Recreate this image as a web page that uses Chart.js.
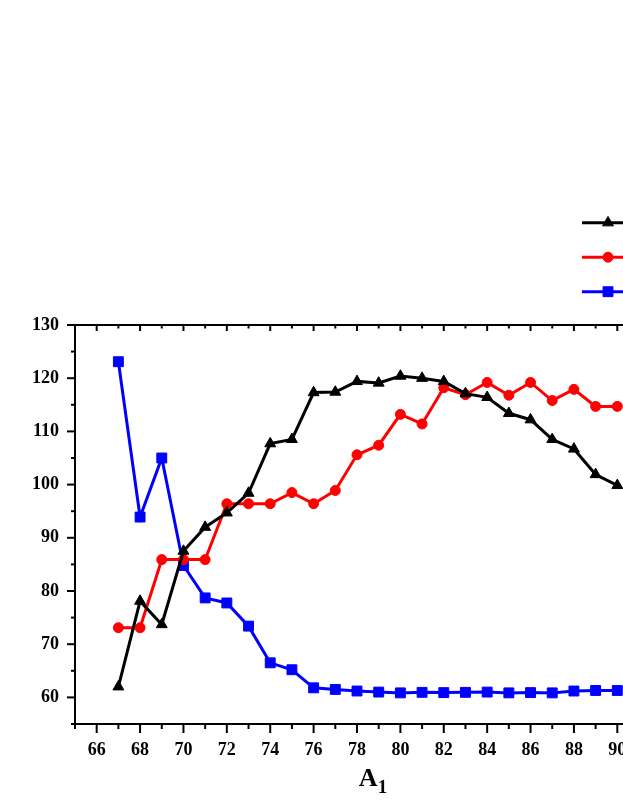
<!DOCTYPE html>
<html><head><meta charset="utf-8">
<script src="https://cdn.jsdelivr.net/npm/chart.js@4.4.1/dist/chart.umd.min.js"></script>
<style>html,body{margin:0;padding:0;background:#fff;overflow:hidden;width:623px;height:806px}canvas{display:block}</style>
</head><body>
<canvas id="c" width="700" height="806"></canvas>
<script>
const xValues = [67,68,69,70,71,72,73,74,75,76,77,78,79,80,81,82,83,84,85,86,87,88,89,90];
const seriesBlack = [62.0,78.1,73.7,87.5,92.0,94.7,98.4,107.7,108.5,117.3,117.4,119.4,119.1,120.4,120.0,119.4,117.1,116.4,113.4,112.2,108.5,106.7,101.9,99.85];
const seriesRed = [73.1,73.1,85.9,85.9,85.9,96.4,96.4,96.4,98.5,96.4,98.9,105.6,107.4,113.2,111.4,118.2,116.9,119.2,116.8,119.2,115.8,117.9,114.7,114.7];
const seriesBlue = [123.1,93.9,105.0,84.8,78.7,77.75,73.4,66.5,65.2,61.8,61.5,61.2,61.0,60.85,60.95,60.9,60.95,61.0,60.85,60.9,60.85,61.2,61.3,61.3];
const seriesNames = ['Series 1','Series 2','Series 3'];
const xTickLabels = [66,68,70,72,74,76,78,80,82,84,86,88,90];
const yTickLabels = [60,70,80,90,100,110,120,130];
const axisTitleMain = 'A';
const axisTitleSub = '1';

const FONT = '"Liberation Serif", "Times New Roman", serif';
const pts = arr => xValues.map((x, i) => ({x: x, y: arr[i]}));

const decor = {
  id: 'decor',
  afterDraw(chart) {
    const {ctx, chartArea: a, scales: {x, y}} = chart;
    const line = (x1, y1, x2, y2) => { ctx.beginPath(); ctx.moveTo(x1, y1); ctx.lineTo(x2, y2); ctx.stroke(); };
    ctx.save();
    ctx.strokeStyle = '#000';
    ctx.lineWidth = 2;
    line(a.left - 1, a.top, a.right, a.top);
    ctx.lineWidth = 2;
    for (let v = 65; v <= 91; v++) {
      const px = x.getPixelForValue(v);
      const major = v % 2 === 0;
      line(px, a.bottom, px, a.bottom + (major ? 9 : 5));
      line(px, a.top, px, a.top + (major ? 6 : 3.5));
    }
    for (let v = 55; v <= 130; v += 5) {
      const py = y.getPixelForValue(v);
      const major = v % 10 === 0;
      line(a.left - (major ? 8 : 4), py, a.left, py);
    }
    // axis title
    ctx.fillStyle = '#000';
    ctx.textAlign = 'left';
    ctx.textBaseline = 'alphabetic';
    ctx.font = 'bold 26px ' + FONT;
    const wA = ctx.measureText(axisTitleMain).width;
    ctx.font = 'bold 19px ' + FONT;
    const wS = ctx.measureText(axisTitleSub).width;
    const cx = 373;
    const sx = cx - (wA + wS) / 2;
    ctx.font = 'bold 26px ' + FONT;
    ctx.fillText(axisTitleMain, sx, 786);
    ctx.font = 'bold 19px ' + FONT;
    ctx.fillText(axisTitleSub, sx + wA, 793);
    // legend
    chart.data.datasets.forEach((ds, i) => {
      const ly = 222.7 + i * 34.5;
      ctx.strokeStyle = ds.borderColor;
      ctx.lineWidth = 3;
      line(582, ly, 634, ly);
      ctx.fillStyle = ds.pointBackgroundColor;
      ctx.strokeStyle = ds.pointBorderColor;
      ctx.lineWidth = 1;
      Chart.helpers.drawPoint(ctx, {pointStyle: ds.pointStyle, radius: ds.pointRadius, rotation: 0, borderWidth: 1}, 608, ly);
      ctx.fillStyle = '#000';
      ctx.font = 'bold 18px ' + FONT;
      ctx.textBaseline = 'middle';
      ctx.fillText(ds.label, 645, ly);
    });
    ctx.restore();
  }
};

const mk = (label, arr, color, style, r) => ({
  label: label, data: pts(arr), borderColor: color, backgroundColor: color,
  pointBackgroundColor: color, pointBorderColor: color, pointStyle: style,
  pointRadius: r, pointHoverRadius: r, pointBorderWidth: 1, borderWidth: 3, tension: 0
});

new Chart(document.getElementById('c'), {
  type: 'line',
  data: { datasets: [
    mk(seriesNames[0], seriesBlack, '#000000', 'triangle', 6.3),
    mk(seriesNames[1], seriesRed, '#ff0000', 'circle', 5),
    mk(seriesNames[2], seriesBlue, '#0000ff', 'rect', 7)
  ]},
  options: {
    responsive: false, animation: false,
    layout: { padding: { top: 325, right: 61, left: 0, bottom: 0 } },
    plugins: { legend: { display: false }, tooltip: { enabled: false } },
    scales: {
      x: {
        type: 'linear', min: 65, max: 91,
        afterFit: s => { s.height = 82; },
        afterBuildTicks: s => { s.ticks = xTickLabels.map(v => ({value: v})); },
        grid: { display: false, drawTicks: false },
        border: { display: true, color: '#000', width: 2 },
        ticks: { color: '#000', padding: 16, maxRotation: 0, autoSkip: false, font: { family: FONT, size: 18, weight: 'bold' } }
      },
      y: {
        type: 'linear', min: 55, max: 130,
        afterFit: s => { s.width = 75; },
        afterBuildTicks: s => { s.ticks = yTickLabels.map(v => ({value: v})); },
        grid: { display: false, drawTicks: false },
        border: { display: true, color: '#000', width: 2 },
        ticks: { color: '#000', padding: 16, autoSkip: false, font: { family: FONT, size: 18, weight: 'bold' } }
      }
    }
  },
  plugins: [decor]
});
</script>
</body></html>
